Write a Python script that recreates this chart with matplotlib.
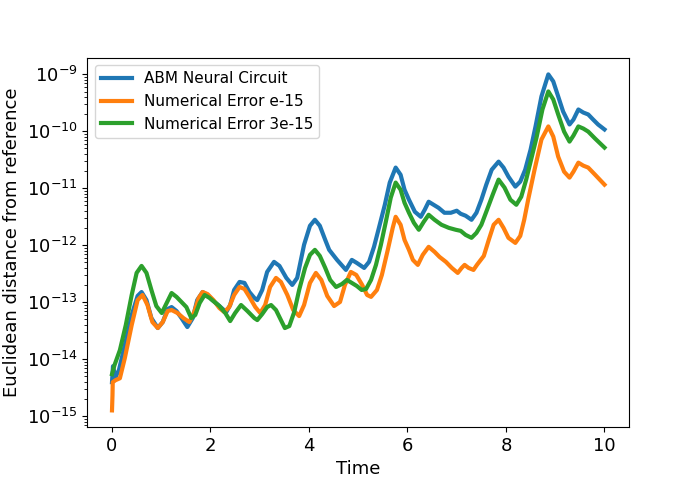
import matplotlib
matplotlib.use("Agg")
import matplotlib.pyplot as plt

# ABM Neural Circuit
abm_t = [0.00, 0.02, 0.07, 0.14, 0.26, 0.40, 0.52, 0.60, 0.70, 0.80, 0.93, 1.03, 1.13, 1.21, 1.31,
         1.41, 1.53, 1.64, 1.73, 1.84, 1.94, 2.04, 2.18, 2.32, 2.40, 2.48, 2.59, 2.69, 2.79, 2.89,
         2.95, 3.05, 3.15, 3.29, 3.40, 3.54, 3.66, 3.76, 3.90, 4.02, 4.12, 4.22, 4.33, 4.41, 4.57,
         4.75, 4.87, 4.97, 5.12, 5.22, 5.32, 5.42, 5.54, 5.64, 5.76, 5.86, 5.94, 6.03, 6.15, 6.27,
         6.35, 6.43, 6.53, 6.63, 6.75, 6.88, 7.00, 7.08, 7.18, 7.30, 7.40, 7.50, 7.60, 7.71, 7.85,
         7.95, 8.05, 8.19, 8.29, 8.39, 8.50, 8.60, 8.72, 8.86, 8.96, 9.06, 9.16, 9.29, 9.37, 9.47,
         9.57, 9.67, 9.77, 9.87, 10.00]
abm_err = [3.94e-15, 7.53e-15, 4.82e-15, 6.40e-15, 1.76e-14, 5.96e-14, 1.29e-13, 1.51e-13, 1.09e-13,
           5.27e-14, 3.52e-14, 4.48e-14, 7.59e-14, 8.22e-14, 7.00e-14, 5.27e-14, 3.66e-14, 5.27e-14,
           1.09e-13, 1.51e-13, 1.34e-13, 1.09e-13, 8.57e-14, 6.71e-14, 8.93e-14, 1.64e-13, 2.27e-13,
           2.18e-13, 1.51e-13, 1.19e-13, 1.09e-13, 1.64e-13, 3.40e-13, 5.11e-13, 4.34e-13, 2.67e-13,
           2.01e-13, 2.67e-13, 1.02e-12, 2.20e-12, 2.80e-12, 2.20e-12, 1.24e-12, 8.30e-13, 5.53e-13,
           3.69e-13, 5.53e-13, 4.90e-13, 4.00e-13, 5.11e-13, 9.38e-13, 2.02e-12, 5.14e-12, 1.26e-11,
           2.31e-11, 1.73e-11, 9.44e-12, 6.30e-12, 3.87e-12, 3.16e-12, 4.20e-12, 5.81e-12, 5.14e-12,
           4.55e-12, 3.72e-12, 3.72e-12, 4.04e-12, 3.57e-12, 3.30e-12, 2.80e-12, 3.72e-12, 6.30e-12,
           1.16e-11, 2.12e-11, 2.94e-11, 2.31e-11, 1.60e-11, 1.07e-11, 1.31e-11, 2.12e-11, 4.79e-11,
           1.22e-10, 4.10e-10, 1.00e-09, 7.53e-10, 4.10e-10, 2.23e-10, 1.32e-10, 1.61e-10, 2.42e-10,
           2.14e-10, 1.98e-10, 1.61e-10, 1.32e-10, 1.08e-10]

# Numerical Error e-15
num1_t = [0.00, 0.01, 0.015, 0.07, 0.16, 0.26, 0.40, 0.52, 0.62, 0.72, 0.82, 0.93, 1.03, 1.13, 1.21,
          1.33, 1.45, 1.57, 1.67, 1.76, 1.84, 1.94, 2.06, 2.18, 2.28, 2.38, 2.48, 2.59, 2.69, 2.79,
          2.91, 3.01, 3.11, 3.21, 3.33, 3.43, 3.56, 3.68, 3.80, 3.90, 4.02, 4.14, 4.25, 4.37, 4.51,
          4.63, 4.73, 4.85, 4.96, 5.08, 5.18, 5.26, 5.38, 5.48, 5.60, 5.70, 5.76, 5.86, 5.94, 6.03,
          6.11, 6.21, 6.31, 6.43, 6.55, 6.65, 6.78, 6.90, 7.02, 7.10, 7.16, 7.24, 7.34, 7.41, 7.55,
          7.65, 7.75, 7.85, 7.95, 8.05, 8.19, 8.29, 8.37, 8.45, 8.58, 8.72, 8.86, 8.96, 9.06, 9.18,
          9.29, 9.37, 9.47, 9.57, 9.67, 9.81, 10.00]
num1_err = [1.26e-15, 2.32e-15, 3.94e-15, 4.27e-15, 4.62e-15, 1.04e-14, 3.97e-14, 1.09e-13, 1.34e-13,
            8.93e-14, 4.48e-14, 3.52e-14, 4.48e-14, 7.00e-14, 7.29e-14, 6.46e-14, 5.27e-14, 4.48e-14,
            6.71e-14, 1.19e-13, 1.51e-13, 1.39e-13, 1.09e-13, 7.91e-14, 6.71e-14, 8.22e-14, 1.34e-13,
            1.85e-13, 1.71e-13, 1.24e-13, 8.22e-14, 6.46e-14, 8.93e-14, 1.85e-13, 2.67e-13, 2.27e-13,
            1.34e-13, 7.29e-14, 5.71e-14, 8.93e-14, 2.18e-13, 3.27e-13, 2.46e-13, 1.29e-13, 8.57e-14,
            1.01e-13, 2.01e-13, 3.40e-13, 3.01e-13, 2.01e-13, 1.34e-13, 1.24e-13, 1.64e-13, 3.01e-13,
            8.30e-13, 2.02e-12, 3.16e-12, 2.29e-12, 1.24e-12, 8.30e-13, 5.53e-13, 4.52e-13, 6.78e-13,
            9.38e-13, 7.66e-13, 6.25e-13, 5.11e-13, 4.00e-13, 3.27e-13, 4.00e-13, 4.52e-13, 4.00e-13,
            3.69e-13, 4.52e-13, 6.50e-13, 1.24e-12, 2.29e-12, 2.80e-12, 2.02e-12, 1.35e-12, 1.10e-12,
            1.46e-12, 2.80e-12, 6.30e-12, 2.12e-11, 7.18e-11, 1.22e-10, 8.10e-11, 3.60e-11, 1.96e-11,
            1.54e-11, 1.96e-11, 2.82e-11, 2.50e-11, 2.31e-11, 1.73e-11, 1.16e-11]

# Numerical Error 3e-15
num3_t = [0.00, 0.05, 0.16, 0.28, 0.40, 0.50, 0.60, 0.70, 0.80, 0.90, 1.01, 1.11, 1.21, 1.31, 1.41,
          1.51, 1.61, 1.69, 1.78, 1.88, 1.98, 2.08, 2.18, 2.30, 2.40, 2.50, 2.62, 2.75, 2.89, 2.95,
          3.05, 3.15, 3.23, 3.33, 3.43, 3.51, 3.60, 3.70, 3.80, 3.92, 4.02, 4.12, 4.22, 4.33, 4.43,
          4.55, 4.67, 4.77, 4.87, 4.97, 5.07, 5.16, 5.26, 5.36, 5.46, 5.56, 5.66, 5.76, 5.86, 5.94,
          6.03, 6.13, 6.23, 6.33, 6.43, 6.55, 6.69, 6.84, 6.98, 7.08, 7.18, 7.30, 7.40, 7.50, 7.60,
          7.73, 7.85, 7.97, 8.09, 8.21, 8.31, 8.41, 8.52, 8.62, 8.74, 8.86, 8.96, 9.06, 9.18, 9.29,
          9.37, 9.47, 9.57, 9.67, 9.81, 10.00]
num3_err = [5.44e-15, 7.83e-15, 1.44e-14, 3.97e-14, 1.34e-13, 3.27e-13, 4.34e-13, 3.27e-13, 1.64e-13,
            8.57e-14, 6.46e-14, 9.68e-14, 1.45e-13, 1.24e-13, 1.01e-13, 8.22e-14, 5.27e-14, 5.96e-14,
            9.68e-14, 1.34e-13, 1.19e-13, 1.01e-13, 8.57e-14, 6.46e-14, 4.67e-14, 6.46e-14, 8.93e-14,
            7.00e-14, 5.27e-14, 4.86e-14, 6.19e-14, 8.22e-14, 8.93e-14, 7.29e-14, 4.86e-14, 3.52e-14,
            3.81e-14, 6.71e-14, 1.64e-13, 4.00e-13, 6.78e-13, 8.30e-13, 6.50e-13, 4.00e-13, 2.46e-13,
            1.85e-13, 2.09e-13, 2.46e-13, 2.18e-13, 1.93e-13, 1.64e-13, 1.71e-13, 2.46e-13, 4.52e-13,
            1.02e-12, 2.58e-12, 6.84e-12, 1.26e-11, 9.44e-12, 5.57e-12, 3.72e-12, 2.48e-12, 1.87e-12,
            2.58e-12, 3.43e-12, 2.80e-12, 2.29e-12, 2.02e-12, 1.87e-12, 1.79e-12, 1.52e-12, 1.35e-12,
            1.65e-12, 2.29e-12, 3.87e-12, 7.71e-12, 1.42e-11, 1.03e-11, 6.30e-12, 5.14e-12, 7.11e-12,
            1.42e-11, 3.46e-11, 7.78e-11, 2.42e-10, 5.02e-10, 3.63e-10, 1.98e-10, 9.90e-11, 6.61e-11,
            8.43e-11, 1.22e-10, 1.12e-10, 9.90e-11, 7.46e-11, 5.19e-11]

fig, ax = plt.subplots(figsize=(6.99, 4.8), dpi=100)
ax.plot(abm_t, abm_err, linewidth=3, label="ABM Neural Circuit")
ax.plot(num1_t, num1_err, linewidth=3, label="Numerical Error e-15")
ax.plot(num3_t, num3_err, linewidth=3, label="Numerical Error 3e-15")
ax.set_yscale("log")
ax.set_xlabel("Time", fontsize=13)
ax.set_ylabel("Euclidean distance from reference", fontsize=13)
ax.tick_params(labelsize=13)
ax.legend(loc="upper left", fontsize=11)
fig.savefig("out.png", dpi=100)
